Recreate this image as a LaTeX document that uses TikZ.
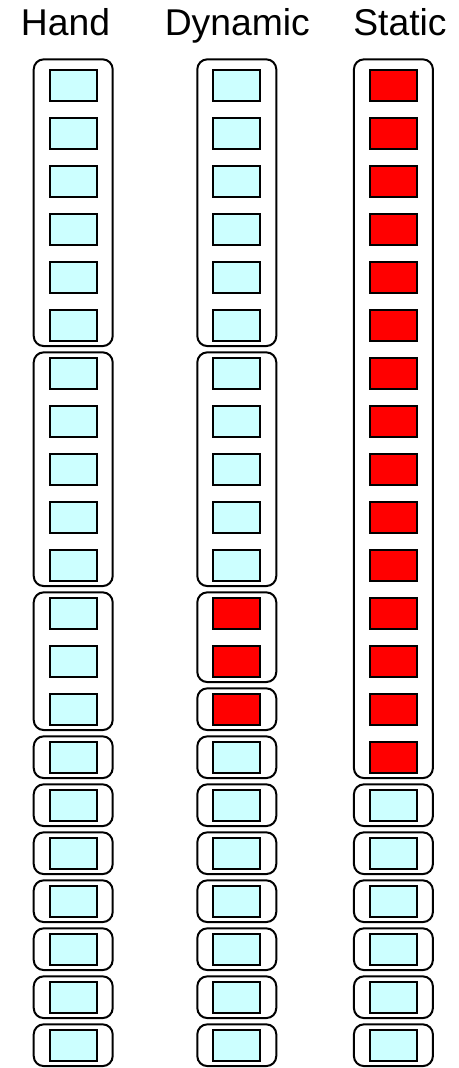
\documentclass[tikz,border=0pt]{standalone}
\usepackage{fontspec}
\setmainfont{Liberation Sans}
\usetikzlibrary{positioning, calc}
\definecolor{paleblue}{RGB}{204,255,255}
\definecolor{hotred}{RGB}{255,0,0}

\begin{document}
\begin{tikzpicture}[
        x=1pt, y=-1pt,
        cell/.style={rectangle, draw=black, line width=2pt, fill=paleblue, minimum width=47pt, minimum height=30.7pt, inner sep=0pt, outer sep=0pt},
        group/.style={draw=black, line width=2pt, rounded corners=10pt},
        title/.style={font=\fontsize{37.3}{44}\selectfont, anchor=base, inner sep=0pt}
    ]
        \useasboundingbox (0,0) rectangle (458,1068);

        \node[title] (thand) at (65.5,35) {Hand};
        \node[title] (tdyn) at (237.3,35) {Dynamic};
        \node[title] (tstat) at (400,35) {Static};

        % cells
        \foreach \i in {0,...,20} {
            \node[cell] (h\i) at (73.2, 85.7+48*\i) {};
        }
        \foreach \i in {0,...,20} {
            \ifnum\i<11 \def\c{paleblue}\else\ifnum\i<14 \def\c{hotred}\else\def\c{paleblue}\fi\fi
            \node[cell, fill=\c] (d\i) at (236.8, 85.7+48*\i) {};
        }
        \foreach \i in {0,...,20} {
            \ifnum\i<15 \def\c{hotred}\else\def\c{paleblue}\fi
            \node[cell, fill=\c] (s\i) at (393.4, 85.7+48*\i) {};
        }

        % groups
        \draw[group] ($(h0.north west)+(-16,-11)$) rectangle ($(h5.south east)+(16,5)$);
        \draw[group] ($(d0.north west)+(-16,-11)$) rectangle ($(d5.south east)+(16,5)$);
        \draw[group] ($(s0.north west)+(-16,-11)$) rectangle ($(s14.south east)+(16,5)$);
        \foreach \a/\b in {6/10, 11/13, 14/14, 15/15, 16/16, 17/17, 18/18, 19/19, 20/20}
            \draw[group] ($(h\a.north west)+(-16,-6)$) rectangle ($(h\b.south east)+(16,5)$);
        \foreach \a/\b in {6/10, 11/12, 13/13, 14/14, 15/15, 16/16, 17/17, 18/18, 19/19, 20/20}
            \draw[group] ($(d\a.north west)+(-16,-6)$) rectangle ($(d\b.south east)+(16,5)$);
        \foreach \a/\b in {15/15, 16/16, 17/17, 18/18, 19/19, 20/20}
            \draw[group] ($(s\a.north west)+(-16,-6)$) rectangle ($(s\b.south east)+(16,5)$);
    \end{tikzpicture}
\end{document}
